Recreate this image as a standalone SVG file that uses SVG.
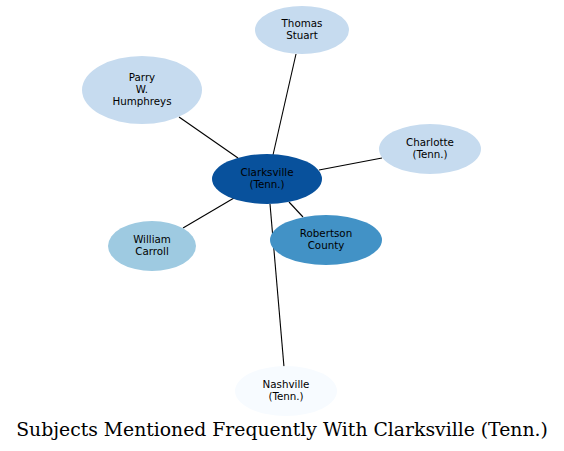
<svg xmlns="http://www.w3.org/2000/svg" width="564" height="451" viewBox="0 0 564 451">
<style>
.n text{font-family:"DejaVu Sans",sans-serif;font-size:10.3px;text-anchor:middle;fill:#000}
.e line{stroke:#000;stroke-width:1.1}
.t{font-family:"DejaVu Serif",serif;font-size:18.8px;text-anchor:middle;fill:#000}
</style>
<rect width="564" height="451" fill="#fff"/>
<g class="e" id="edges">
<line x1="273" y1="155" x2="296" y2="54"/>
<line x1="238" y1="158" x2="179" y2="117"/>
<line x1="319" y1="170" x2="382" y2="158"/>
<line x1="234" y1="198" x2="183" y2="228"/>
<line x1="289" y1="202" x2="303" y2="217"/>
<line x1="270" y1="204" x2="284" y2="367"/>
</g>
<g class="n" id="thomas"><ellipse cx="302" cy="30" rx="47" ry="24" fill="#c6dbef"/><text x="302" y="27">Thomas</text><text x="302" y="39">Stuart</text></g>
<g class="n" id="parry"><ellipse cx="142" cy="90" rx="60" ry="34" fill="#c6dbef"/><text x="142" y="81">Parry</text><text x="142" y="93">W.</text><text x="142" y="105">Humphreys</text></g>
<g class="n" id="charlotte"><ellipse cx="430" cy="149" rx="51" ry="25" fill="#c6dbef"/><text x="430" y="146">Charlotte</text><text x="430" y="158">(Tenn.)</text></g>
<g class="n" id="clarksville"><ellipse cx="267" cy="179" rx="55" ry="25" fill="#08519c"/><text x="267" y="176">Clarksville</text><text x="267" y="188">(Tenn.)</text></g>
<g class="n" id="william"><ellipse cx="152" cy="246" rx="44" ry="25" fill="#9ecae1"/><text x="152" y="243">William</text><text x="152" y="255">Carroll</text></g>
<g class="n" id="robertson"><ellipse cx="326" cy="240" rx="56" ry="25" fill="#4292c6"/><text x="326" y="237">Robertson</text><text x="326" y="249">County</text></g>
<g class="n" id="nashville"><ellipse cx="286" cy="391" rx="51" ry="25" fill="#f7fbff"/><text x="286" y="388">Nashville</text><text x="286" y="400">(Tenn.)</text></g>
<text class="t" x="282" y="436">Subjects Mentioned Frequently With Clarksville (Tenn.)</text>
</svg>
